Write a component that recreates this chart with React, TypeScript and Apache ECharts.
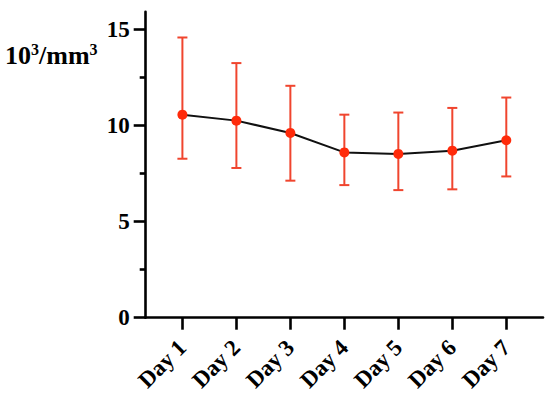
import React, { useEffect, useRef } from "react";
import * as echarts from "echarts";

const categories = ["Day 1", "Day 2", "Day 3", "Day 4", "Day 5", "Day 6", "Day 7"];
const dayIndex = [1, 2, 3, 4, 5, 6, 7];
const meanValues = [10.55, 10.24, 9.6, 8.59, 8.51, 8.68, 9.22];
const upperValues = [14.56, 13.23, 12.05, 10.55, 10.66, 10.9, 11.44];
const lowerValues = [8.26, 7.78, 7.12, 6.89, 6.63, 6.67, 7.34];
const yMajorTicks = [0, 5, 10, 15];
const yMinorTicks = [2.5, 7.5, 12.5];

const FONT = "Liberation Serif";
const RED = "#ff2a0a";
const BAR_RED = "#f0452e";

export default function App() {
  const ref = useRef<HTMLDivElement>(null);

  useEffect(() => {
    if (!ref.current) return;
    const chart = echarts.init(ref.current, undefined, { renderer: "svg" });

    const lineData = dayIndex.map((d, i) => [d, meanValues[i]]);
    const errData = dayIndex.map((d, i) => [d, lowerValues[i], upperValues[i]]);

    chart.setOption({
      animation: false,
      backgroundColor: "#ffffff",
      grid: { left: 145.7, right: 7, top: 11.7, bottom: 84.3 },
      graphic: [
        {
          type: "text",
          x: 5,
          y: 55,
          style: {
            text: "10{sup|3}/mm{sup|3}",
            fontFamily: FONT,
            fontWeight: "bold",
            fontSize: 26,
            lineHeight: 28,
            fill: "#000",
            verticalAlign: "middle",
            rich: {
              sup: {
                fontFamily: FONT,
                fontWeight: "bold",
                fontSize: 16,
                lineHeight: 14,
                verticalAlign: "top",
                fill: "#000",
              },
            },
          },
        },
      ],
      xAxis: {
        type: "value",
        min: 0.32,
        max: 7.68,
        splitLine: { show: false },
        axisLine: { show: true, lineStyle: { color: "#000", width: 2.6 } },
        axisTick: {
          show: true,
          customValues: dayIndex,
          length: 12,
          lineStyle: { color: "#000", width: 2.6 },
        },
        axisLabel: {
          customValues: dayIndex,
          formatter: (v: number) => categories[Math.round(v) - 1] ?? "",
          rotate: 45,
          margin: 26,
          color: "#000",
          fontFamily: FONT,
          fontWeight: "bold",
          fontSize: 23,
        },
      },
      yAxis: [
        {
          type: "value",
          min: 0,
          max: 15.9,
          splitLine: { show: false },
          axisLine: { show: true, lineStyle: { color: "#000", width: 2.6 } },
          axisTick: {
            show: true,
            customValues: yMajorTicks,
            length: 12,
            lineStyle: { color: "#000", width: 2.6 },
          },
          axisLabel: {
            customValues: yMajorTicks,
            margin: 16,
            color: "#000",
            fontFamily: FONT,
            fontWeight: "bold",
            fontSize: 23,
          },
        },
        {
          type: "value",
          position: "left",
          min: 0,
          max: 15.9,
          splitLine: { show: false },
          axisLine: { show: false },
          axisTick: {
            show: true,
            customValues: yMinorTicks,
            length: 6,
            lineStyle: { color: "#000", width: 2.6 },
          },
          axisLabel: { show: false },
        },
      ],
      series: [
        {
          type: "custom",
          z: 1,
          data: errData,
          encode: { x: 0, y: [1, 2] },
          renderItem: (params: any, api: any) => {
            const x = api.value(0);
            const lo = api.coord([x, api.value(1)]);
            const hi = api.coord([x, api.value(2)]);
            const w = 5;
            const style = { stroke: BAR_RED, lineWidth: 2 };
            return {
              type: "group",
              children: [
                { type: "line", shape: { x1: hi[0], y1: hi[1], x2: lo[0], y2: lo[1] }, style },
                { type: "line", shape: { x1: hi[0] - w, y1: hi[1], x2: hi[0] + w, y2: hi[1] }, style },
                { type: "line", shape: { x1: lo[0] - w, y1: lo[1], x2: lo[0] + w, y2: lo[1] }, style },
              ],
            };
          },
        },
        {
          type: "line",
          z: 3,
          data: lineData,
          symbol: "circle",
          symbolSize: 10,
          showSymbol: true,
          lineStyle: { color: "#111", width: 2 },
          itemStyle: { color: RED },
        },
      ],
    });

    return () => chart.dispose();
  }, []);

  return (
    <div
      ref={ref}
      style={{ position: "fixed", left: 0, top: 0, width: 550, height: 402, background: "#fff" }}
    />
  );
}
